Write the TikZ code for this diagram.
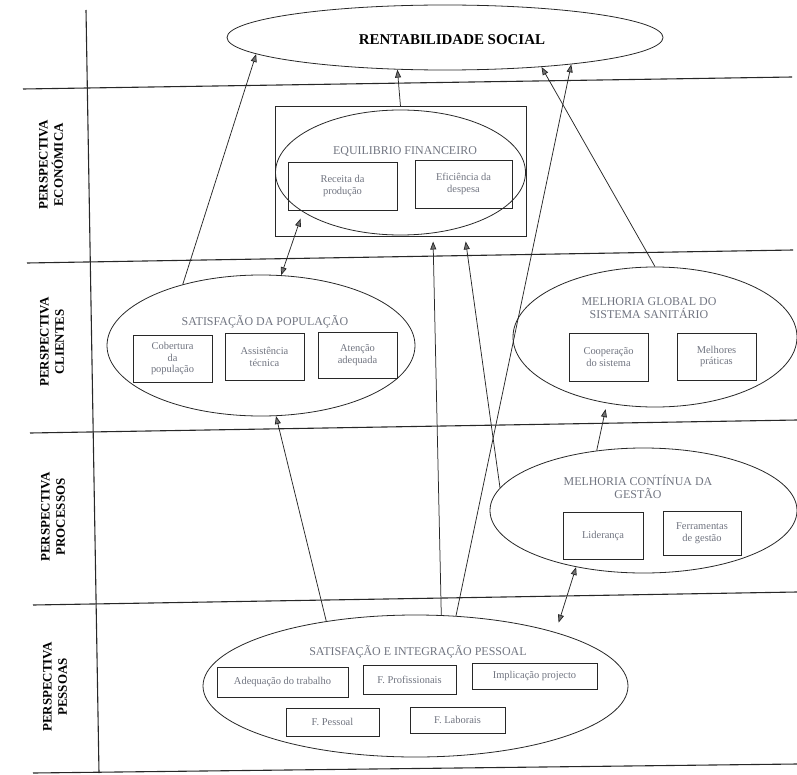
\documentclass[tikz,border=0pt]{standalone}
\usepackage{fontspec}
\setmainfont{Liberation Serif}
\usetikzlibrary{shapes.geometric,arrows.meta}
\definecolor{txtgray}{RGB}{112,116,128}
\definecolor{inkline}{RGB}{40,40,40}

\begin{document}
\begin{tikzpicture}[x=1bp,y=-1bp,
  gridline/.style={draw=inkline,line width=1.1bp},
  ell/.style={draw=inkline,line width=0.8bp,ellipse,inner sep=0pt},
  boxnode/.style={draw=inkline,line width=1bp,rectangle,inner sep=1pt,align=center,
    text=txtgray,font=\fontsize{10.5}{12}\selectfont},
  title/.style={text=txtgray,align=center,inner sep=0pt,font=\fontsize{12}{13}\selectfont},
  lab/.style={align=center,inner sep=0pt,font=\bfseries\fontsize{13}{15.5}\selectfont},
  conn/.style={draw=inkline,line width=0.75bp,-{Triangle[width=6bp,length=8bp,fill=black!55]}},
  conntwo/.style={draw=inkline,line width=0.75bp,
    {Triangle[width=6bp,length=8bp,fill=black!55]}-{Triangle[width=6bp,length=8bp,fill=black!55]}}
]
\useasboundingbox (0,0) rectangle (797,775);

% lanes
\draw[gridline] (86,10) -- (99,773);
\draw[gridline] (23,89) -- (792,77);
\draw[gridline] (27,263) -- (793,250);
\draw[gridline] (30,433) -- (797,420);
\draw[gridline] (33,605) -- (797,592);
\draw[gridline] (33,773) -- (797,764);

% lane labels
\node[lab,rotate=90] (peco) at (51,165) {PERSPECTIVA\\ECONÓMICA};
\node[lab,rotate=90] (pcli) at (52,342) {PERSPECTIVA\\CLIENTES};
\node[lab,rotate=90] (ppro) at (53,517) {PERSPECTIVA\\PROCESSOS};
\node[lab,rotate=90] (ppes) at (55,687) {PERSPECTIVA\\PESSOAS};

% top goal
\node[ell,minimum width=436bp,minimum height=65bp] (rs) at (445,37.5) {};
\node[inner sep=0pt,font=\bfseries\fontsize{15}{17}\selectfont] (rsT) at (452,40) {RENTABILIDADE SOCIAL};

% economic perspective
\node[draw=inkline,line width=1bp,rectangle,inner sep=0pt,minimum width=251bp,minimum height=129bp] (efr) at (400.5,171.5) {};
\node[ell,minimum width=250bp,minimum height=125bp] (efe) at (400.5,172.5) {};
\node[title] (efT) at (405,152) {EQUILIBRIO FINANCEIRO};
\node[boxnode,minimum width=109bp,minimum height=48bp] (rec) at (342.5,186) {Receita da\\produção};
\node[boxnode,minimum width=97bp,minimum height=48bp] (efi) at (463.5,184) {Eficiência da\\despesa};

% clients perspective
\node[ell,minimum width=308bp,minimum height=141bp] (sp) at (261,345.5) {};
\node[title] (spT) at (265,322) {SATISFAÇÃO DA POPULAÇÃO};
\node[boxnode,minimum width=79bp,minimum height=47bp] (cob) at (172.5,358.5) {Cobertura\\da\\população};
\node[boxnode,minimum width=79bp,minimum height=47bp] (ass) at (264.5,356.5) {Assistência\\técnica};
\node[boxnode,minimum width=79bp,minimum height=46bp] (ate) at (357.5,355) {Atenção\\adequada};

\node[ell,minimum width=284bp,minimum height=140bp] (mgss) at (655,337) {};
\node[title] (mgssT) at (649,308) {MELHORIA GLOBAL DO\\SISTEMA SANITÁRIO};
\node[boxnode,minimum width=79bp,minimum height=48bp] (coo) at (608.5,357) {Cooperação\\do sistema};
\node[boxnode,minimum width=79bp,minimum height=47bp] (mel) at (716.5,356.5) {Melhores\\práticas};

% processes perspective
\node[ell,minimum width=307bp,minimum height=125bp] (mcg) at (643.5,510.5) {};
\node[title] (mcgT) at (638,487) {MELHORIA CONTÍNUA DA\\GESTÃO};
\node[boxnode,minimum width=80bp,minimum height=47bp] (lid) at (603,535.5) {Liderança};
\node[boxnode,minimum width=78bp,minimum height=44bp] (fer) at (702,533) {Ferramentas\\de gestão};

% people perspective
\node[ell,minimum width=425bp,minimum height=142bp] (seip) at (415.5,686) {};
\node[title] (seipT) at (418,652) {SATISFAÇÃO E INTEGRAÇÃO PESSOAL};
\node[boxnode,minimum width=131bp,minimum height=30bp] (adq) at (282.5,682) {Adequação do trabalho};
\node[boxnode,minimum width=93bp,minimum height=29bp] (fpr) at (409.5,679.5) {F. Profissionais};
\node[boxnode,minimum width=125bp,minimum height=26bp] (imp) at (534.5,676) {Implicação projecto};
\node[boxnode,minimum width=93bp,minimum height=28bp] (fps) at (332.5,722) {F. Pessoal};
\node[boxnode,minimum width=95bp,minimum height=26bp] (flb) at (457.5,720) {F. Laborais};

% cause-and-effect links
\draw[conn] (sp.142.8) -- (rs.185);
\draw[conn] (efr.north) -- (rs.214.7);
\draw[conn] (mgss.north) -- (rs.343.5);
\draw[conn] (seip.60.1) -- (rs.348);
\draw[conn] (seip.144.5) -- (sp.282);
\draw[conn,shorten >=5bp] (seip.70.5) -- ([xshift=32.5bp]efr.south);
\draw[conn,shorten >=5bp] (mcg.171.2) -- ([xshift=64.5bp]efr.south);
\draw[conntwo,shorten <=7bp] (efe.202.7) -- (sp.74.8);
\draw[conntwo,shorten <=10bp] (seip.21.6) -- (mcg.220.3);
\draw[conn,shorten >=6bp] (mcg.128) -- (mgss.234.5);
\end{tikzpicture}
\end{document}
